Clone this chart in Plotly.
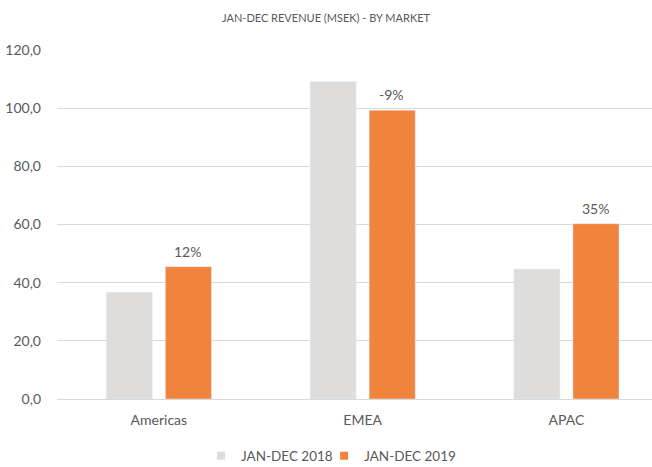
import plotly.graph_objects as go

markets = ["Americas", "EMEA", "APAC"]
rev_2018 = [36.7, 109.2, 44.7]
rev_2019 = [45.5, 99.3, 60.3]
growth_labels = ["12%", "-9%", "35%"]

GRAY = "#DEDDDC"
ORANGE = "#F0843C"
TEXT = "#595959"
FONT = "Lato"

fig = go.Figure()
fig.add_trace(go.Bar(x=markets, y=rev_2018, name="JAN-DEC 2018",
                     marker_color=GRAY, showlegend=False))
fig.add_trace(go.Bar(x=markets, y=rev_2019, name="JAN-DEC 2019",
                     marker_color=ORANGE, showlegend=False))

# small square legend markers, one legend each so they can be placed like the original
fig.add_trace(go.Scatter(x=[None], y=[None], mode="markers", name="JAN-DEC 2018",
                         marker=dict(symbol="square", size=8, color=GRAY),
                         legend="legend"))
fig.add_trace(go.Scatter(x=[None], y=[None], mode="markers", name="JAN-DEC 2019",
                         marker=dict(symbol="square", size=8, color=ORANGE),
                         legend="legend2"))

# growth labels above the 2019 bars
for m, v, lab in zip(markets, rev_2019, growth_labels):
    fig.add_annotation(x=m, y=v, text=lab, showarrow=False, xref="x", yref="y",
                       xshift=29, yanchor="bottom", yshift=5,
                       font=dict(family=FONT, size=14, color=TEXT))

legend_style = dict(orientation="h", xanchor="left", y=-0.163, yanchor="middle",
                    font=dict(family=FONT, size=13.5, color=TEXT), itemwidth=30,
                    bgcolor="rgba(0,0,0,0)")

fig.update_layout(
    width=652, height=467,
    margin=dict(l=57, r=0, t=50, b=68, autoexpand=False),
    paper_bgcolor="white", plot_bgcolor="white",
    separators=",.",
    barmode="group", bargap=0.42, bargroupgap=0.22,
    font=dict(family=FONT, size=14, color=TEXT),
    title=dict(text="JAN-DEC REVENUE (MSEK) - BY MARKET", x=0.5, xref="container",
               xanchor="center", y=1 - 18 / 467, yref="container", yanchor="middle",
               font=dict(family=FONT, size=11, color=TEXT)),
    legend=dict(x=0.242, **legend_style),
    legend2=dict(x=0.449, **legend_style),
    showlegend=True,
)
fig.update_xaxes(range=[-0.5, 2.42], showgrid=False, showline=False,
                 zeroline=False, ticks="", ticklabelstandoff=11, automargin=False,
                 tickfont=dict(family=FONT, size=14, color=TEXT))
fig.update_yaxes(range=[0, 120], dtick=20, tickformat=".1f", showgrid=True,
                 gridcolor="#D9D9D9", gridwidth=1, zeroline=True,
                 zerolinecolor="#D9D9D9", zerolinewidth=1, showline=False,
                 ticks="", ticklabelstandoff=15, automargin=False,
                 tickfont=dict(family=FONT, size=14, color=TEXT))

# drop the page's default body margin so the chart sits at the window's corner
fig.write_html("out.html", config={"displayModeBar": False},
               post_script="document.body.style.margin = '0';")
